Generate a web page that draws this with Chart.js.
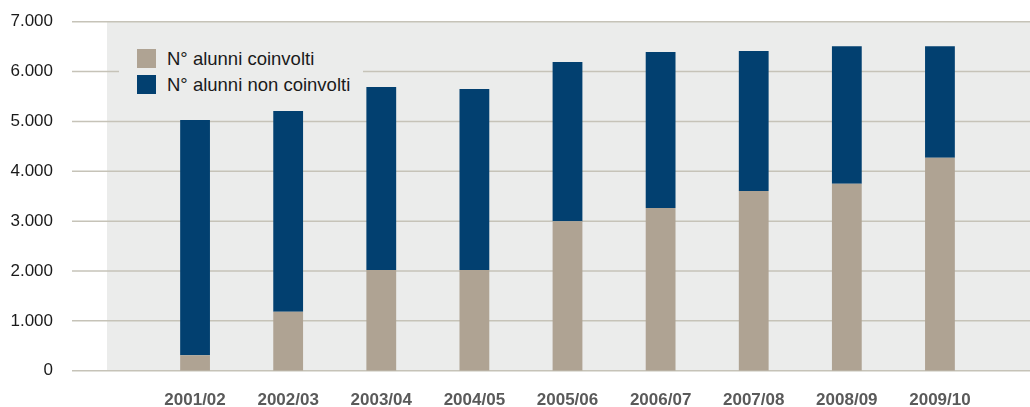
<!DOCTYPE html>
<html lang="it">
<head>
<meta charset="utf-8">
<title>Alunni coinvolti</title>
<script src="https://cdn.jsdelivr.net/npm/chart.js@4"></script>
<style>
    html, body { margin: 0; padding: 0; background: #fff; }
    #wrap { position: relative; width: 1030px; height: 407px; }
    #legend {
        position: absolute; left: 119px; top: 33px; width: 244px; height: 68px;
        background: #ebeceb; padding: 13px 0 0 18px; box-sizing: border-box;
        font-family: 'Liberation Sans', Arial, sans-serif; font-size: 18.5px; color: #1a1a1a;
    }
    #legend .item { display: flex; align-items: center; height: 25.7px; }
    #legend .swatch { width: 19px; height: 19px; margin-right: 11px; flex: none; }
</style>
</head>
<body>
<div id="wrap">
    <canvas id="chart" width="1030" height="407"></canvas>
    <div id="legend"></div>
</div>
<script>
// Data
const years = ['2001/02', '2002/03', '2003/04', '2004/05', '2005/06', '2006/07', '2007/08', '2008/09', '2009/10'];
const coinvolti = [310, 1180, 2020, 2020, 3000, 3265, 3605, 3750, 4270];
const nonCoinvolti = [4720, 4030, 3670, 3630, 3190, 3125, 2805, 2760, 2240];
const yTicks = [0, 1000, 2000, 3000, 4000, 5000, 6000, 7000];

(function () {
    'use strict';

    // Colors
    const TAN = '#afa393';
    const NAVY = '#024070';
    const PANEL = '#ebeceb';
    const GRID = '#c6c3b8';
    const FONT = "'Liberation Sans', Arial, sans-serif";

    // grey panel + gridlines reach past the plot, like the original
    const PANEL_LEFT = 107;
    const GRID_LEFT = 72;

    const backdrop = {
        id: 'backdrop',
        beforeDatasetsDraw(chart) {
            const { ctx, chartArea, scales } = chart;
            const y = scales.y;
            ctx.save();
            ctx.fillStyle = PANEL;
            ctx.fillRect(PANEL_LEFT, chartArea.top, chart.width - PANEL_LEFT, chartArea.bottom - chartArea.top);
            ctx.strokeStyle = GRID;
            ctx.lineWidth = 1.5;
            y.ticks.forEach(t => {
                const py = y.getPixelForValue(t.value);
                ctx.beginPath();
                ctx.moveTo(GRID_LEFT, py);
                ctx.lineTo(chart.width, py);
                ctx.stroke();
            });
            ctx.restore();
        }
    };

    function fmt(v) {
        return String(v).replace(/\B(?=(\d{3})+(?!\d))/g, '.');
    }

    const chart = new Chart(document.getElementById('chart'), {
        type: 'bar',
        data: {
            labels: years,
            datasets: [
                { label: 'N° alunni coinvolti', data: coinvolti, backgroundColor: TAN },
                { label: 'N° alunni non coinvolti', data: nonCoinvolti, backgroundColor: NAVY },
            ],
        },
        options: {
            responsive: false,
            animation: false,
            layout: { padding: { top: 21.7, right: 43.5, left: 0, bottom: 0 } },
            datasets: { bar: { barPercentage: 0.32, categoryPercentage: 1 } },
            plugins: {
                legend: { display: false },
                tooltip: { enabled: false },
            },
            scales: {
                x: {
                    stacked: true,
                    grid: { display: false, drawTicks: false },
                    border: { display: false },
                    ticks: {
                        color: '#5a5a5a',
                        font: { family: FONT, size: 17, weight: 'bold' },
                        padding: 19,
                        maxRotation: 0,
                    },
                    afterFit(scale) {
                        scale.height = 36.3;
                        scale.paddingLeft = 0;
                        scale.paddingRight = 0;
                    },
                },
                y: {
                    stacked: true,
                    min: 0,
                    max: 7000,
                    afterBuildTicks(scale) { scale.ticks = yTicks.map(v => ({ value: v })); },
                    grid: { display: false, drawTicks: false },
                    border: { display: false },
                    ticks: {
                        color: '#1a1a1a',
                        font: { family: FONT, size: 17 },
                        padding: 95.5,
                        callback: v => fmt(v),
                    },
                    afterFit(scale) {
                        // big label gap must not push the plot down
                        scale.width = 148.5;
                        scale.paddingTop = 0;
                        scale.paddingBottom = 0;
                    },
                },
            },
        },
        plugins: [backdrop],
    });

    // html legend, built from the datasets
    const legend = document.getElementById('legend');
    chart.data.datasets.forEach(ds => {
        const row = document.createElement('div');
        row.className = 'item';
        const sw = document.createElement('span');
        sw.className = 'swatch';
        sw.style.background = ds.backgroundColor;
        const txt = document.createElement('span');
        txt.textContent = ds.label;
        row.appendChild(sw);
        row.appendChild(txt);
        legend.appendChild(row);
    });
})();
</script>
</body>
</html>
